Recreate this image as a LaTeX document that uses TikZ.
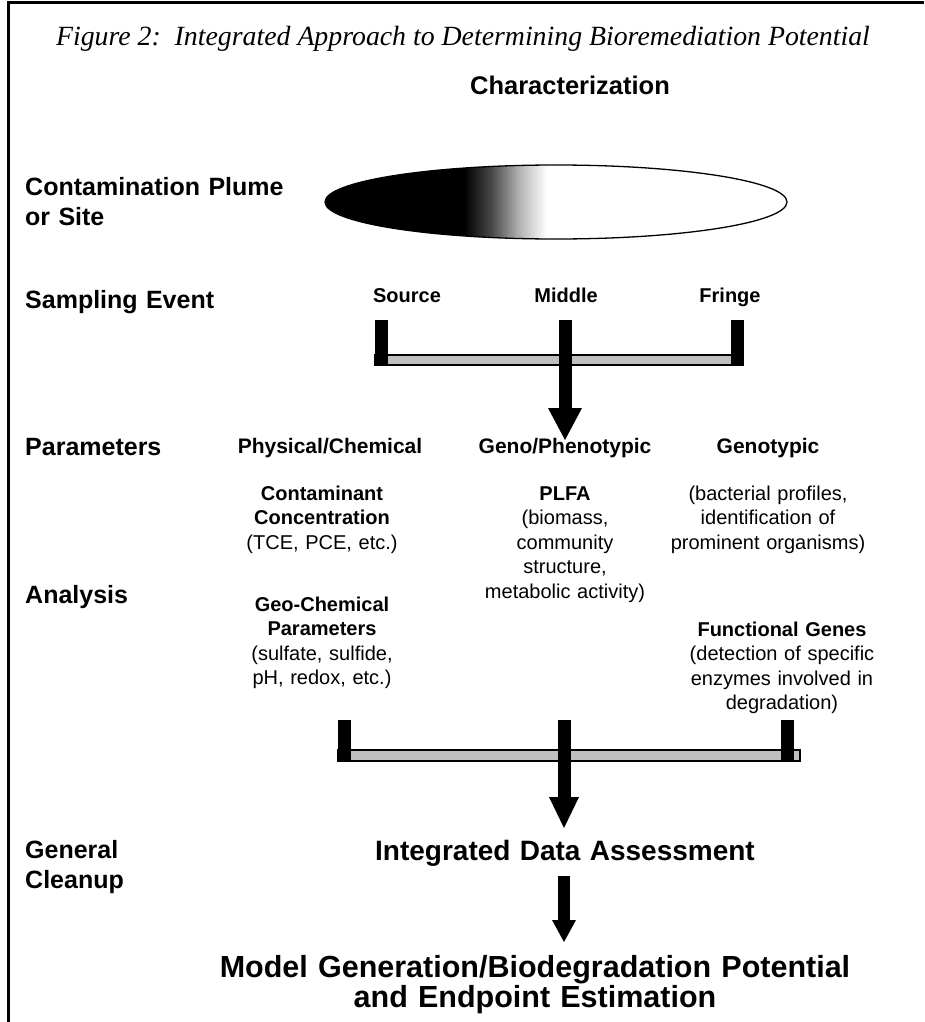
\documentclass[tikz,border=0pt]{standalone}
\usepackage{fontspec}
\setmainfont{Liberation Serif}
\newfontfamily\arial{Liberation Sans}
\pgfdeclarehorizontalshading{plume}{100bp}{color(0bp)=(black); color(40bp)=(black); color(43bp)=(black!72); color(46bp)=(black!30); color(49bp)=(white); color(100bp)=(white)}
\tikzset{
  lbl/.style={anchor=base west, inner sep=0pt, text width=300pt, align=left, font=\arial\bfseries\fontsize{25}{30}\selectfont},
  hdr/.style={anchor=base, inner sep=0pt, font=\arial\bfseries\fontsize{21}{26}\selectfont},
  smallhdr/.style={anchor=base, inner sep=0pt, font=\arial\bfseries\fontsize{20}{24}\selectfont},
  blk/.style={anchor=base, inner sep=0pt, text width=260pt, align=center, font=\arial\fontsize{20}{24.5}\selectfont},
  big/.style={anchor=base, inner sep=0pt, text width=800pt, align=center, font=\arial\bfseries\fontsize{30.5}{30}\selectfont},
  vbar/.style={fill=black},
  hbar/.style={fill=black!25, draw=black, line width=1.2pt},
  head/.style={fill=black}
}
\begin{document}
\begin{tikzpicture}[x=1pt,y=-1pt]
\useasboundingbox (0,0) rectangle (924,1022);
% border (left and top)
\draw[line width=3pt] (8,1022) -- (8,3) -- (924,3);

% title
\node[anchor=base, inner sep=0pt, font=\itshape\fontsize{27.8}{30}\selectfont] (title) at (463,46)
  {Figure 2:\ \ Integrated Approach to Determining Bioremediation Potential};
\node[anchor=base, inner sep=0pt, font=\arial\bfseries\fontsize{25.5}{28}\selectfont] (charz) at (570,95) {Characterization};

% left labels
\node[lbl] (contam) at (25,195) {Contamination Plume\\or Site};
\node[lbl] (sampling) at (25,308) {Sampling Event};
\node[lbl] (params) at (25,455) {Parameters};
\node[lbl] (analysis) at (25,603) {Analysis};
\node[lbl] (general) at (25,858) {General\\Cleanup};

% plume ellipse
\path[shading=plume, draw=black, line width=1.3pt] (556,202) ellipse [x radius=231, y radius=37];
\node[inner sep=0pt] (plume) at (556,202) {};

% sampling locations
\node[smallhdr] (source) at (407,302) {Source};
\node[smallhdr] (middle) at (566,302) {Middle};
\node[smallhdr] (fringe) at (730,302) {Fringe};

% bracket 1
\coordinate (b1l) at (381,320);
\coordinate (b1m) at (565,320);
\coordinate (b1r) at (737,320);
\fill[hbar] (375,355) rectangle (743,365);
\fill[vbar] ([xshift=-6.5pt]b1l) rectangle ([xshift=6.5pt,yshift=-45pt]b1l);
\fill[vbar] ([xshift=-6.5pt]b1r) rectangle ([xshift=6.5pt,yshift=-45pt]b1r);
\fill[vbar] ([xshift=-6.5pt]b1m) rectangle ([xshift=6.5pt,yshift=-88pt]b1m);
\fill[head] ([xshift=-17pt,yshift=-88pt]b1m) -- ([xshift=17pt,yshift=-88pt]b1m) -- ([yshift=-120pt]b1m) -- cycle;

% parameters
\node[hdr] (physchem) at (330,453) {Physical/Chemical};
\node[hdr] (genopheno) at (565,453) {Geno/Phenotypic};
\node[hdr] (genotypic) at (768,453) {Genotypic};

% analysis blocks
\node[blk] (contconc) at (322,500) {\textbf{Contaminant}\\\textbf{Concentration}\\(TCE, PCE, etc.)};
\node[blk] (plfa) at (565,500) {\textbf{PLFA}\\(biomass,\\community\\structure,\\metabolic activity)};
\node[blk] (bact) at (768,500) {(bacterial profiles,\\identification of\\prominent organisms)};
\node[blk] (geochem) at (322,611) {\textbf{Geo-Chemical}\\\textbf{Parameters}\\(sulfate, sulfide,\\pH, redox, etc.)};
\node[blk] (funcgenes) at (782,636) {\textbf{Functional Genes}\\(detection of specific\\enzymes involved in\\degradation)};

% bracket 2
\coordinate (b2l) at (344,720);
\coordinate (b2m) at (564,720);
\coordinate (b2r) at (787,720);
\fill[hbar] (338,750) rectangle (800,761);
\fill[vbar] ([xshift=-6.5pt]b2l) rectangle ([xshift=6.5pt,yshift=-41pt]b2l);
\fill[vbar] ([xshift=-6.5pt]b2r) rectangle ([xshift=6.5pt,yshift=-41pt]b2r);
\fill[vbar] ([xshift=-6.5pt]b2m) rectangle ([xshift=6.5pt,yshift=-77pt]b2m);
\fill[head] ([xshift=-15pt,yshift=-77pt]b2m) -- ([xshift=15pt,yshift=-77pt]b2m) -- ([yshift=-108pt]b2m) -- cycle;

% integrated data assessment
\node[big, font=\arial\bfseries\fontsize{28}{32}\selectfont] (ida) at (565,860) {Integrated Data Assessment};

% arrow 3
\coordinate (a3) at (564,876);
\fill[vbar] ([xshift=-6pt]a3) rectangle ([xshift=6pt,yshift=-44pt]a3);
\fill[head] ([xshift=-12pt,yshift=-44pt]a3) -- ([xshift=12pt,yshift=-44pt]a3) -- ([yshift=-66pt]a3) -- cycle;

% model generation
\node[big] (model) at (535,977) {Model Generation/Biodegradation Potential\\and Endpoint Estimation};
\end{tikzpicture}
\end{document}
